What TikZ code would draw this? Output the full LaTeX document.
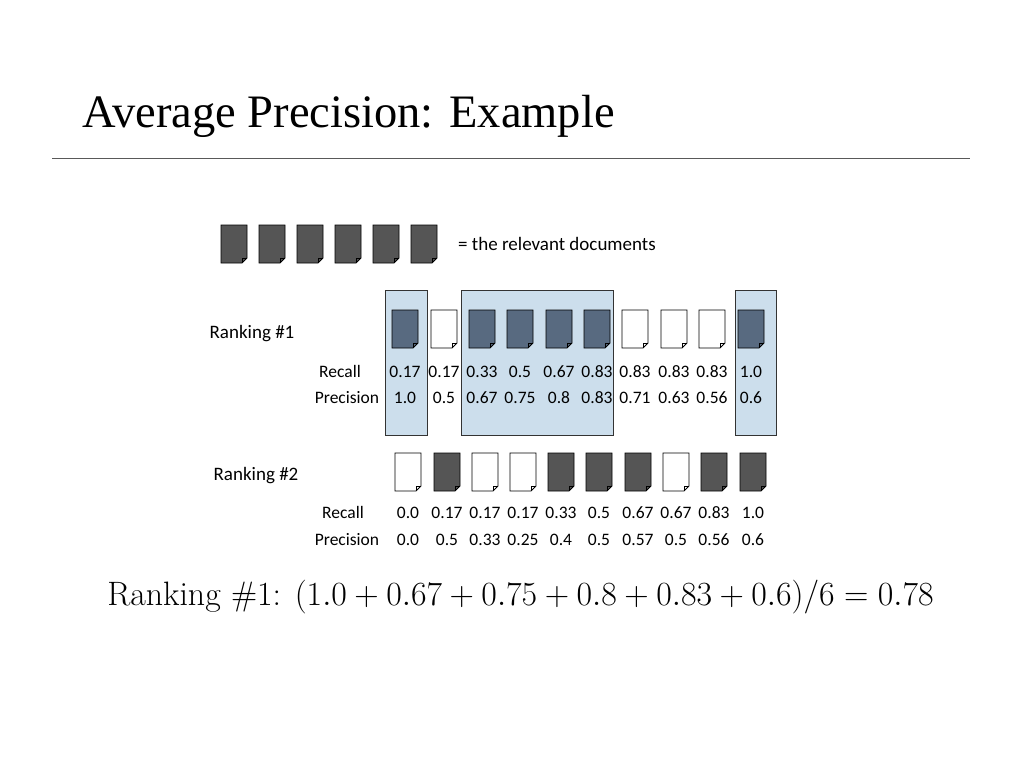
\documentclass[tikz,border=0pt]{standalone}
\usepackage{fontspec}
\setmainfont{Liberation Serif}
\newfontfamily\carl{Carlito}
\definecolor{bdoc}{RGB}{88,106,128}
\definecolor{gdoc}{RGB}{85,85,85}
\definecolor{hlc}{RGB}{204,222,236}
\begin{document}
\begin{tikzpicture}[x=1pt,y=-1pt,
  lbl/.style={font=\carl\fontsize{17.5}{17.5}\selectfont,inner sep=0pt,text height=12pt,text depth=0pt},
  hl/.style={draw=black!80,fill=hlc,line width=0.8pt}]
\useasboundingbox (0,0) rectangle (1024,768);
\newcommand\doc[4]{% x y fill name
  \path[draw=black,line width=0.8pt,fill=#3] (#1-13,#2-19) -- (#1+13,#2-19) -- (#1+13,#2+14) -- (#1+8,#2+19) -- (#1-13,#2+19) -- cycle;
  \draw[line width=0.6pt] (#1+13,#2+14) -- (#1+8,#2+14) -- (#1+8,#2+19);
  \coordinate (#4) at (#1,#2);}
\node[anchor=west,inner sep=0pt,font=\fontsize{46.5}{46.5}\selectfont] (title) at (82,116) {Average Precision: Example};
\coordinate (r1) at (52,158); \coordinate (r2) at (970,158);
\draw[gray!70!black,line width=1pt] (r1) -- (r2);
\foreach \x [count=\i] in {234,272,310,348,386,424} {\doc{\x}{244}{gdoc}{t\i}}
\node[lbl,anchor=west,font=\carl\fontsize{19}{19}\selectfont] (rel) at (458,244) {= the relevant documents};
\node[hl,minimum width=42,minimum height=145,inner sep=0pt] (b1) at (406,362.5) {};
\node[hl,minimum width=152,minimum height=145,inner sep=0pt] (b2) at (537,362.5) {};
\node[hl,minimum width=41,minimum height=145,inner sep=0pt] (b3) at (755.5,362.5) {};
\node[lbl,font=\carl\fontsize{19}{19}\selectfont] (rk1) at (252,332) {Ranking \#1};
\node[lbl] (rc1) at (340,371) {Recall};
\node[lbl] (pr1) at (347,397) {Precision};
\foreach \x/\f/\r/\p [count=\i] in {405/1/0.17/1.0,444/0/0.17/0.5,482/1/0.33/0.67,520/1/0.5/0.75,559/1/0.67/0.8,597/1/0.83/0.83,635/0/0.83/0.71,674/0/0.83/0.63,712/0/0.83/0.56,751/1/1.0/0.6} {
  \ifnum\f=1 \doc{\x}{329}{bdoc}{a\i}\else\doc{\x}{329}{white}{a\i}\fi
  \node[lbl] (ar\i) at (\x,371) {\r};
  \node[lbl] (ap\i) at (\x,397) {\p};}
\node[lbl,font=\carl\fontsize{19}{19}\selectfont] (rk2) at (256,474) {Ranking \#2};
\node[lbl] (rc2) at (343,512) {Recall};
\node[lbl] (pr2) at (347,539) {Precision};
\foreach \x/\f/\r/\p [count=\i] in {408/0/0.0/0.0,447/1/0.17/0.5,485/0/0.17/0.33,523/0/0.17/0.25,561/1/0.33/0.4,599/1/0.5/0.5,638/1/0.67/0.57,676/0/0.67/0.5,714/1/0.83/0.56,753/1/1.0/0.6} {
  \ifnum\f=1 \doc{\x}{472}{gdoc}{b\i}\else\doc{\x}{472}{white}{b\i}\fi
  \node[lbl] (br\i) at (\x,512) {\r};
  \node[lbl] (bp\i) at (\x,539) {\p};}
\node[anchor=west,inner sep=0pt,font=\Huge,scale=1.36] (f) at (107,597) {\fontspec{Latin Modern Roman}Ranking \#1: $(1.0+0.67+0.75+0.8+0.83+0.6)/6=0.78$};
\end{tikzpicture}
\end{document}
